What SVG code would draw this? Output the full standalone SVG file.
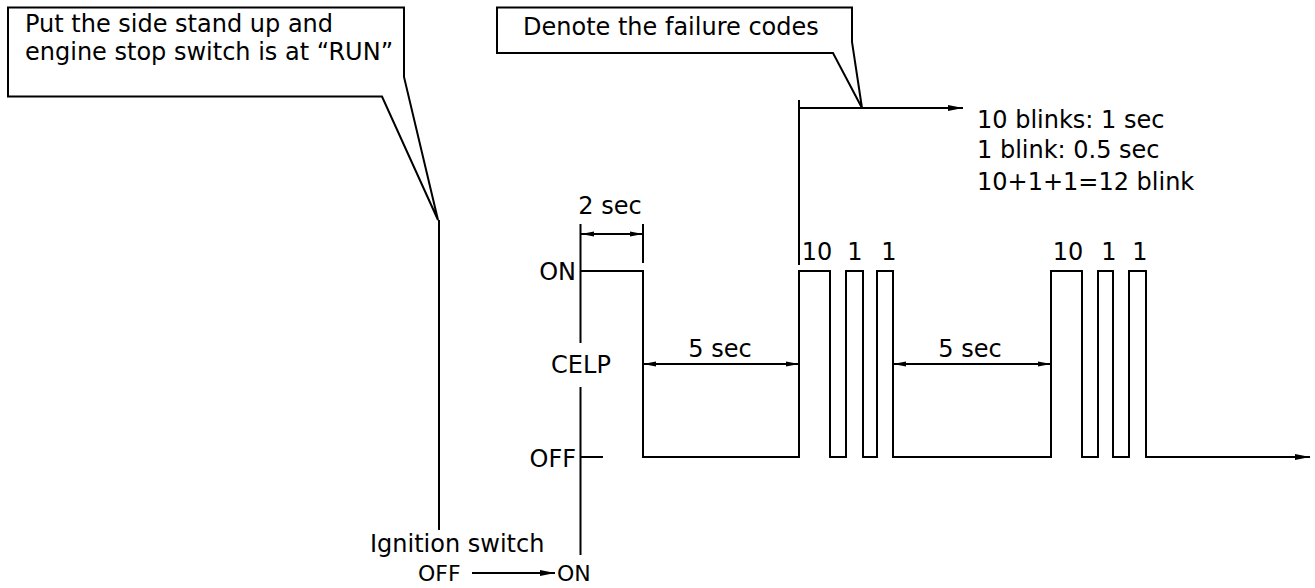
<svg xmlns="http://www.w3.org/2000/svg" width="1315" height="588" viewBox="0 0 1315 588">
<style>
.ln{fill:none;stroke:#000;stroke-width:2;stroke-linejoin:miter;stroke-linecap:butt}
.t{font-family:"DejaVu Sans","Liberation Sans",sans-serif;font-size:24px;fill:#000}
.s{font-size:22px}
.m{text-anchor:middle}
.e{text-anchor:end}
</style>
<defs>
<marker id="ah" markerUnits="userSpaceOnUse" markerWidth="16" markerHeight="8" refX="15" refY="3.5" orient="auto-start-reverse"><path d="M0,0.5 L15,3.5 L0,6.5 Z" fill="#000"/></marker>
<marker id="dh" markerUnits="userSpaceOnUse" markerWidth="14" markerHeight="6" refX="13" refY="3" orient="auto-start-reverse"><path d="M0,0.5 L13,3 L0,5.5 Z" fill="#000"/></marker>
</defs>
<rect width="1315" height="588" fill="#fff"/>

<g id="callout-stand">
<path class="ln" d="M382,96.5 L8,96.5 L8,7.5 L404,7.5 L404,77 L438,220 Z"/>
<text class="t" x="25" y="32">Put the side stand up and</text>
<text class="t" x="25" y="60">engine stop switch is at “RUN”</text>
</g>

<g id="callout-failure">
<path class="ln" d="M833,53 L497,53 L497,7.5 L852,7.5 L852,42 L862,108 Z"/>
<text class="t" x="523" y="35">Denote the failure codes</text>
</g>

<g id="blink-note">
<text class="t" x="977" y="128">10 blinks: 1 sec</text>
<text class="t" x="977" y="158">1 blink: 0.5 sec</text>
<text class="t" x="977" y="190">10+1+1=12 blink</text>
</g>

<g id="axis">
<path class="ln" d="M580.5,224 V343 M580.5,387 V555 M580,457 H603"/>
<text class="t e" x="576" y="280">ON</text>
<text class="t m" x="581" y="373">CELP</text>
<text class="t e" x="576" y="467">OFF</text>
</g>

<g id="ignition">
<text class="t" x="370" y="552">Ignition switch</text>
<text class="t s" x="418" y="581">OFF</text>
<text class="t s" x="557" y="581">ON</text>
</g>

<g id="signal">
<path class="ln" d="M581,271 H643 V457 H799 V271 H830 V457 H846 V271 H863 V457 H877 V271 H893 V457 H1051 V271 H1082 V457 H1098 V271 H1113 V457 H1129 V271 H1146 V457 H1310" marker-end="url(#ah)"/>
<text class="t m" x="817" y="260">10</text>
<text class="t m" x="855" y="260">1</text>
<text class="t m" x="889" y="260">1</text>
<text class="t m" x="1068" y="260">10</text>
<text class="t m" x="1109" y="260">1</text>
<text class="t m" x="1140" y="260">1</text>
</g>

<g id="dimensions">
<path class="ln" d="M643,224 V263"/>
<path class="ln" d="M581,234 H643" marker-start="url(#dh)" marker-end="url(#dh)"/>
<text class="t m" x="610" y="214">2 sec</text>
<path class="ln" d="M643,364 H799" marker-start="url(#dh)" marker-end="url(#dh)"/>
<text class="t m" x="720" y="357">5 sec</text>
<path class="ln" d="M893,364 H1051" marker-start="url(#dh)" marker-end="url(#dh)"/>
<text class="t m" x="970" y="357">5 sec</text>
</g>

<g id="connectors">
<path class="ln" d="M439,220 V530"/>
<path class="ln" d="M799,100 V265"/>
<path class="ln" d="M799,108 H963" marker-end="url(#ah)"/>
<path class="ln" d="M472,573 H555" marker-end="url(#ah)"/>
</g>
</svg>
